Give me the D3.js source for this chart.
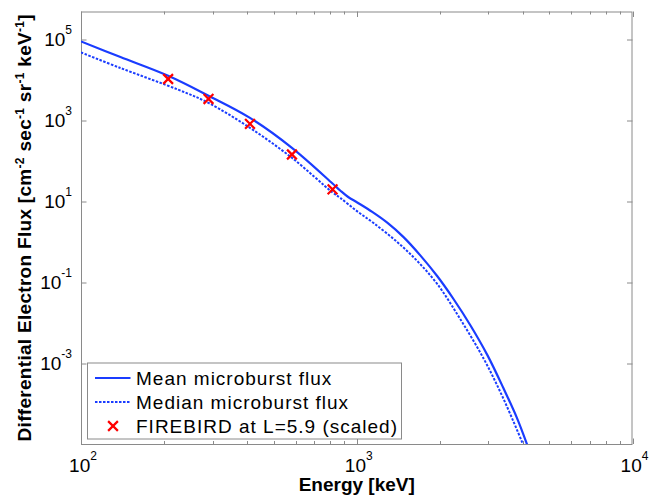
<!DOCTYPE html>
<html>
<head>
<meta charset="utf-8">
<script src="https://cdn.jsdelivr.net/npm/d3@7"></script>
<style>
    body { margin: 0; background: #fff; }
    text { font-family: "Liberation Sans", Arial, sans-serif; }
</style>
</head>
<body>
<div id="chart1"></div>
<script>
// energies [keV] and fluxes
var meanEnergy = [100, 139, 207, 290, 410, 582, 817, 871, 931, 1004, 1138, 1290, 1475, 1700, 1960, 2240, 2582, 2977, 3402, 3825, 4140, 4264];
var meanFlux = [9.1e4, 3.74e4, 1.29e4, 4.14e3, 1.17e3, 212, 27.8, 18.7, 12.9, 9.44, 5.52, 2.99, 1.33, 0.464, 0.141, 0.0392, 8.67e-3, 1.58e-3, 2.42e-4, 4.14e-5, 1e-5, 5.6e-6];

var medianEnergy = [100, 139, 225, 290, 410, 582, 817, 871, 1002, 1151, 1400, 1654, 1955, 2375, 2886, 3318, 3708, 3979, 4089];
var medianFlux = [4.85e4, 2.0e4, 5.82e3, 2.74e3, 661, 120, 16.7, 12.3, 5.75, 2.92, 1.0, 0.341, 0.0923, 0.0122, 1.29e-3, 1.92e-4, 3.49e-5, 1.1e-5, 6.7e-6];

var fbEnergy = [207, 290, 410, 582, 817];
var fbFlux = [1.07e4, 3.43e3, 830, 145, 19.8];

var xTicks = [100, 1000, 10000];
var xTickExp = ["2", "3", "4"];
var yTicks = [1e-3, 1e-1, 1e1, 1e3, 1e5];
var yTickExp = ["-3", "-1", "1", "3", "5"];

var legendLabels = ["Mean microburst flux", "Median microburst flux", "FIREBIRD at L=5.9 (scaled)"];

function init(){
    var w = 649;
    var h = 501;
    var margin = { top: 11.5, right: 16.5, bottom: 57, left: 81 };
    var width = w - margin.left - margin.right;
    var height = h - margin.top - margin.bottom;
    var blue = "#1a3cff";
    var axisColor = "#8a8a8a";

    var svg = d3.select("#chart1")
        .append("svg")
        .attr("width", w)
        .attr("height", h)
        .append("g")
        .attr("transform", `translate(${margin.left}, ${margin.top})`);

    var xScale = d3.scaleLog()
        .domain([100, 10000])
        .range([0, width]);

    var yScale = d3.scaleLog()
        .domain([1e-5, 5e5])
        .range([height, 0]);

    svg.append("clipPath")
        .attr("id", "plotclip")
        .append("rect")
        .attr("width", width)
        .attr("height", height);

    // minor ticks on x (200..900, 2000..9000)
    var minorX = [];
    [100, 1000].forEach(function(d) {
        for (var k = 2; k <= 9; k++) minorX.push(d * k);
    });

    var ticks = svg.append("g").attr("stroke", axisColor).attr("stroke-width", 1);
    minorX.forEach(function(v) {
        var x = Math.round(xScale(v)) + 0.5;
        ticks.append("line").attr("x1", x).attr("x2", x).attr("y1", height).attr("y2", height - 3);
        ticks.append("line").attr("x1", x).attr("x2", x).attr("y1", 0).attr("y2", 3);
    });
    xTicks.forEach(function(v) {
        var x = Math.round(xScale(v)) + 0.5;
        ticks.append("line").attr("x1", x).attr("x2", x).attr("y1", height).attr("y2", height - 5.5);
        ticks.append("line").attr("x1", x).attr("x2", x).attr("y1", 0).attr("y2", 5.5);
    });
    yTicks.forEach(function(v) {
        var y = Math.round(yScale(v)) + 0.5;
        ticks.append("line").attr("x1", 0).attr("x2", 5.5).attr("y1", y).attr("y2", y);
        ticks.append("line").attr("x1", width).attr("x2", width - 5.5).attr("y1", y).attr("y2", y);
    });

    // axes box
    svg.append("rect")
        .attr("x", 0.5)
        .attr("y", 0.5)
        .attr("width", width - 1)
        .attr("height", height)
        .attr("fill", "none")
        .attr("stroke", axisColor)
        .attr("stroke-width", 1);

    // tick labels as 10^n
    xTicks.forEach(function(v, i) {
        var t = svg.append("text")
            .attr("x", xScale(v) + 2)
            .attr("y", height + 28)
            .attr("text-anchor", "middle")
            .style("font-size", "19px")
            .attr("fill", "#000");
        t.append("tspan").text("10");
        t.append("tspan").attr("dy", -12).style("font-size", "12px").text(xTickExp[i]);
    });
    yTicks.forEach(function(v, i) {
        var t = svg.append("text")
            .attr("x", -9)
            .attr("y", yScale(v) + 6.5)
            .attr("text-anchor", "end")
            .style("font-size", "19px")
            .attr("fill", "#000");
        t.append("tspan").text("10");
        t.append("tspan").attr("dy", -12).style("font-size", "12px").text(yTickExp[i]);
    });

    var line = d3.line()
        .x(d => xScale(d[0]))
        .y(d => yScale(d[1]))
        .curve(d3.curveCatmullRom.alpha(0.5));

    var plot = svg.append("g").attr("clip-path", "url(#plotclip)");

    plot.append("path")
        .datum(meanEnergy.map((e, i) => [e, meanFlux[i]]))
        .attr("d", line)
        .attr("fill", "none")
        .attr("stroke", blue)
        .attr("stroke-width", 2.2);

    plot.append("path")
        .datum(medianEnergy.map((e, i) => [e, medianFlux[i]]))
        .attr("d", line)
        .attr("fill", "none")
        .attr("stroke", blue)
        .attr("stroke-width", 2)
        .attr("stroke-dasharray", "2.5,1.5");

    // FIREBIRD crosses
    var cross = d3.symbol().type(d3.symbolTimes).size(64);
    plot.selectAll(".fb")
        .data(fbEnergy.map((e, i) => [e, fbFlux[i]]))
        .enter()
        .append("path")
        .attr("class", "fb")
        .attr("d", cross)
        .attr("transform", d => `translate(${xScale(d[0])},${yScale(d[1])})`)
        .attr("fill", "none")
        .attr("stroke", "#ff0000")
        .attr("stroke-width", 2.2);

    // legend
    var legend = svg.append("g").attr("transform", "translate(6.5, 351.5)");
    legend.append("rect")
        .attr("width", 314)
        .attr("height", 76)
        .attr("fill", "#fff")
        .attr("stroke", "#8a8a8a")
        .attr("stroke-width", 1);

    legendLabels.forEach(function(label, i) {
        var y = 15 + i * 24;
        if (i < 2) {
            legend.append("line")
                .attr("x1", 7.5)
                .attr("x2", 43)
                .attr("y1", y)
                .attr("y2", y)
                .attr("stroke", blue)
                .attr("stroke-width", i == 0 ? 2.2 : 2)
                .attr("stroke-dasharray", i == 0 ? null : "2.5,1.5");
        } else {
            legend.append("path")
                .attr("d", cross)
                .attr("transform", `translate(25.5,${y})`)
                .attr("fill", "none")
                .attr("stroke", "#ff0000")
                .attr("stroke-width", 2.2);
        }
        legend.append("text")
            .attr("x", 48.5)
            .attr("y", y + 7)
            .style("font-size", "19px")
            .style("letter-spacing", "1px")
            .attr("fill", "#000")
            .text(label);
    });

    // X Axis Label
    svg.append("text")
        .attr("text-anchor", "middle")
        .attr("x", xScale(1000))
        .attr("y", height + 47)
        .style("font-size", "19px")
        .style("font-weight", "bold")
        .text("Energy [keV]");

    // Y Axis Label
    var yl = svg.append("text")
        .attr("text-anchor", "middle")
        .attr("transform", "rotate(-90)")
        .attr("x", -height / 2)
        .attr("y", -margin.left + 31)
        .style("font-size", "19px")
        .style("letter-spacing", "0.3px")
        .style("font-weight", "bold");
    var parts = [["Differential Electron Flux [cm", "-2"], [" sec", "-1"], [" sr", "-1"], [" keV", "-1"], ["]", null]];
    parts.forEach(function(p, i) {
        yl.append("tspan").attr("dy", i == 0 ? 0 : 7).text(p[0]);
        if (p[1]) yl.append("tspan").attr("dy", -7).style("font-size", "12px").text(p[1]);
    });
}

window.onload = init;
</script>
</body>
</html>
